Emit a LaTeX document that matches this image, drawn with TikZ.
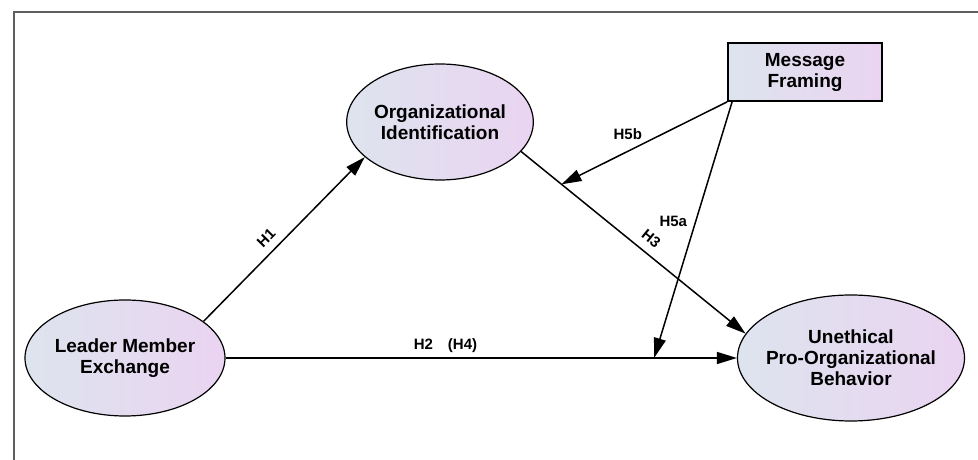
\documentclass[tikz,border=0pt]{standalone}
\usepackage{fontspec}
\setmainfont{Liberation Sans}
\usetikzlibrary{positioning, arrows.meta, shapes.geometric}
\definecolor{shadeleft}{RGB}{221,228,238}
\definecolor{shaderight}{RGB}{234,212,241}
\definecolor{framegray}{RGB}{95,95,95}

\begin{document}
\begin{tikzpicture}[x=1pt, y=1pt,
  latent/.style={ellipse, draw, line width=1.2pt, left color=shadeleft, right color=shaderight,
    inner sep=0pt, align=center, font=\fontsize{19}{21}\selectfont\bfseries},
  manifest/.style={rectangle, draw, line width=1.8pt, left color=shadeleft, right color=shaderight,
    inner sep=0pt, align=center, font=\fontsize{19}{21}\selectfont\bfseries},
  effect/.style={line width=1.5pt, -{Triangle[length=20pt,width=12pt]}},
  hyp/.style={font=\fontsize{15}{17}\selectfont\bfseries, inner sep=1pt}]
  \useasboundingbox (0,0) rectangle (978,460);
  \draw[framegray, line width=1.5pt] (14,0) -- (14,448) -- (978,448);

  \node[latent, minimum width=200pt, minimum height=116pt] (lmx) at (125,102) {Leader Member\\Exchange};
  \node[latent, minimum width=186pt, minimum height=116pt] (oi) at (440,338) {Organizational\\Identification};
  \node[latent, minimum width=227pt, minimum height=126pt, inner xsep=-8pt] (upb) at (851,102) {Unethical\\Pro-Organizational\\Behavior};
  \node[manifest, minimum width=154pt, minimum height=58pt] (mf) at (805,388) {Message\\Framing};

  \draw[effect] (lmx.25) -- (oi.205) node[hyp, pos=0.45, sloped, above=7pt] {H1};
  \draw[effect] (lmx) -- (upb) node[hyp, pos=0.43, above=4pt] {H2\quad(H4)} coordinate[pos=0.838] (lmxupb);
  \draw[effect] (oi.-20) -- (upb.167) node[hyp, pos=0.54, sloped, above=7pt] {H3} coordinate[pos=0.18] (oiupb);
  \draw[effect] (mf.south west) -- (oiupb) node[hyp, pos=0.6, above=10pt] {H5b};
  \draw[effect] ([xshift=5pt]mf.south west) -- (lmxupb) node[hyp, pos=0.465, left=7pt] {H5a};
\end{tikzpicture}
\end{document}
